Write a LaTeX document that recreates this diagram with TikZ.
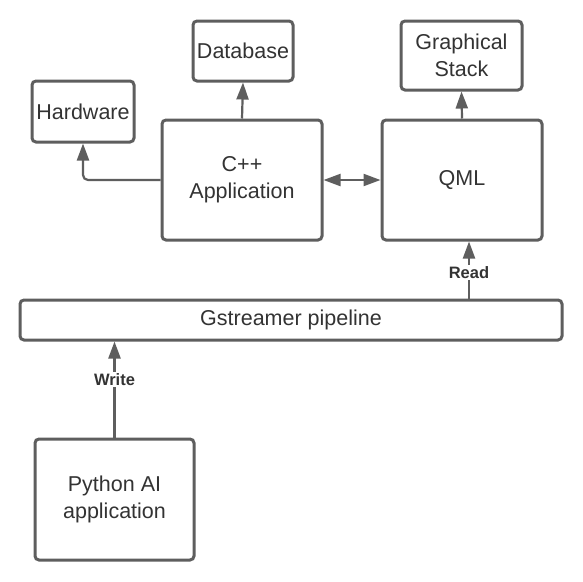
\documentclass[tikz,border=0pt]{standalone}
\usepackage{fontspec}
\setmainfont{Liberation Sans}
\usetikzlibrary{arrows.meta}
\definecolor{edgec}{HTML}{5E5E5E}
\definecolor{txtc}{HTML}{333333}
\begin{document}
\begin{tikzpicture}[x=1pt,y=-1pt,
 box/.style={draw=edgec, line width=3pt, rounded corners=4pt, fill=white, text=txtc,
   font=\fontsize{21.5}{27}\selectfont, align=center, inner sep=0pt},
 conn/.style={draw=edgec, line width=2.2pt, -{Triangle[length=17pt,width=12pt]}},
 both/.style={draw=edgec, line width=2.2pt, {Triangle[length=17pt,width=12pt]}-{Triangle[length=17pt,width=12pt]}},
 lbl/.style={fill=white, text=txtc, font=\fontsize{16.5}{18}\selectfont\bfseries, inner sep=1.5pt}]
\useasboundingbox[fill=white] (0,0) rectangle (583,581);
\node[box, minimum width=100pt, minimum height=60pt] (db) at (243,51) {Database};
\node[box, minimum width=102pt, minimum height=61pt] (hw) at (83,111.5) {Hardware};
\node[box, minimum width=160pt, minimum height=120pt] (cpp) at (242,180) {C++\\Application};
\node[box, minimum width=160pt, minimum height=120pt] (qml) at (462,180) {QML};
\node[box, minimum width=121pt, minimum height=69pt] (gs) at (461.5,55.5) {Graphical\\Stack};
\node[box, minimum width=542pt, minimum height=40pt] (gst) at (291,320) {Gstreamer pipeline};
\node[box, minimum width=159pt, minimum height=121pt] (py) at (114.5,499.5) {Python AI\\application};

\draw[conn] (cpp.north) -- (db.south);
\draw[conn, rounded corners=5pt] (cpp.west) -| (hw.south);
\draw[conn] (qml.north) -- (gs.south);
\draw[both] (cpp.east) -- (qml.west);
\draw[conn] ([xshift=7pt]qml.south |- gst.north) -- ([xshift=7pt]qml.south) node[lbl, pos=0.45] {Read};
\draw[conn] (py.north) -- (py.north |- gst.south) node[lbl, pos=0.6] {Write};
\end{tikzpicture}
\end{document}
